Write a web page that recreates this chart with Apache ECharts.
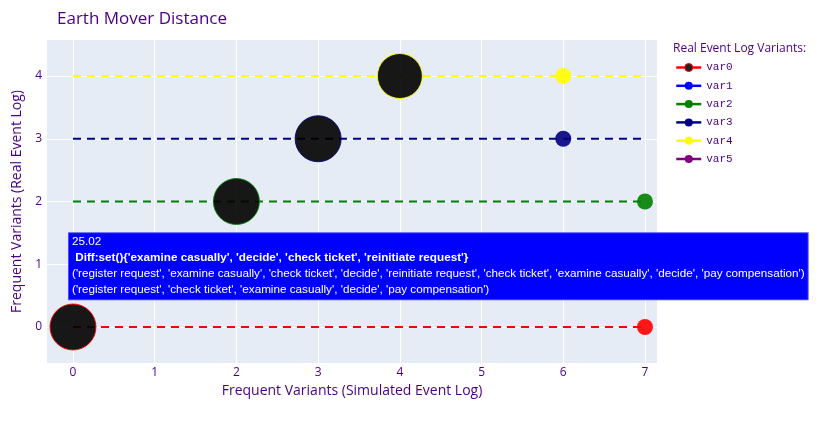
<!DOCTYPE html>
<html>
<head>
<meta charset="utf-8">
<title>Earth Mover Distance</title>
<script src="https://cdn.jsdelivr.net/npm/echarts@6/dist/echarts.min.js"></script>
<style>
    html, body { margin: 0; padding: 0; background: #fff; }
    #chart { width: 830px; height: 422px; }
</style>
</head>
<body>
<div id="chart"></div>
<script>
// variants of the real event log, one dashed line each (y = index)
const variantNames = ['var0', 'var1', 'var2', 'var3', 'var4', 'var5']
const variantColors = ['#ff0000', '#0000ff', '#008000', '#000080', '#ffff00', '#800080']
const lineFrom = [0, 0, 0, 0, 0, 0]
const lineTo = [7, 7, 7, 7, 7, 7]

// matched variants (black bubbles)
const matchX = [0, 2, 3, 4]
const matchY = [0, 2, 3, 4]
const matchSize = [46, 46, 46, 45]

// last simulated variant for each real one (coloured dots)
const lastX = [7, 7, 6, 6]
const lastY = [0, 2, 3, 4]
const lastSize = [16, 16, 16, 16]

const xTicks = [0, 1, 2, 3, 4, 5, 6, 7]
const yTicks = [0, 1, 2, 3, 4]

// hover label shown on var1
const hoverPoint = [0, 1]
const hoverValue = '25.02'
const hoverDiff = " Diff:set(){'examine casually', 'decide', 'check ticket', 'reinitiate request'}"
const hoverReal = "('register request', 'examine casually', 'check ticket', 'decide', 'reinitiate request', 'check ticket', 'examine casually', 'decide', 'pay compensation')"
const hoverSim = "('register request', 'check ticket', 'examine casually', 'decide', 'pay compensation')"

const textColor = '#4b0082'
const font = '"Open Sans", "Noto Sans", sans-serif'
const hoverFont = 'Arial, "Liberation Sans", sans-serif'

var myChart = echarts.init(document.getElementById('chart'))

let series = []
variantNames.forEach((name, i) => {
    series.push({
        name: name,
        type: 'line',
        data: [[lineFrom[i], i], [lineTo[i], i]],
        color: variantColors[i],
        symbol: 'circle',
        symbolSize: 10,
        showSymbol: false,
        lineStyle: { type: [8, 6], width: 2, color: variantColors[i] },
        z: 2,
        silent: true,
    })
})
series.push({
    type: 'scatter',
    data: matchX.map((x, i) => ({
        value: [x, matchY[i]],
        symbolSize: matchSize[i],
        itemStyle: {
            color: '#000',
            opacity: 0.9,
            borderColor: variantColors[matchY[i]],
            borderWidth: 1,
        },
    })),
    z: 3,
    silent: true,
})
series.push({
    type: 'scatter',
    data: lastX.map((x, i) => ({
        value: [x, lastY[i]],
        symbolSize: lastSize[i],
        itemStyle: { color: variantColors[lastY[i]], opacity: 0.9 },
    })),
    z: 3,
    silent: true,
})

let option = {
    backgroundColor: '#fff',
    textStyle: { fontFamily: font },
    title: [
        {
            text: 'Earth Mover Distance',
            left: 52,
            top: 6,
            textStyle: { fontSize: 17, fontWeight: 'normal', color: textColor, fontFamily: font },
        },
        {
            text: 'Real Event Log Variants:',
            left: 668,
            top: 38,
            textStyle: { fontSize: 12, fontWeight: 'normal', color: textColor, fontFamily: font },
        },
    ],
    legend: {
        orient: 'vertical',
        left: 670,
        top: 57,
        itemWidth: 25,
        itemHeight: 10,
        itemGap: 7.3,
        lineStyle: { type: 'solid', width: 2.5 },
        textStyle: { fontFamily: '"Courier New", "Liberation Mono", monospace', fontSize: 11, color: textColor },
        data: variantNames.map((n, i) =>
            i === 0
                ? { name: n, itemStyle: { color: '#222', borderColor: variantColors[0], borderWidth: 1 } }
                : { name: n }
        ),
    },
    grid: {
        left: 47,
        right: 173,
        top: 40,
        bottom: 59,
        show: true,
        backgroundColor: '#E5ECF6',
        borderWidth: 0,
    },
    xAxis: {
        type: 'value',
        min: -0.318,
        max: 7.147,
        name: 'Frequent Variants (Simulated Event Log)',
        nameLocation: 'middle',
        nameGap: 21,
        nameTextStyle: { fontSize: 14, color: textColor, fontFamily: font },
        axisLine: { show: false },
        axisTick: { show: false, customValues: xTicks },
        axisLabel: { customValues: xTicks, margin: 4, fontSize: 12, color: textColor, fontFamily: font },
        splitLine: { show: true, lineStyle: { color: '#fff', width: 1 } },
    },
    yAxis: {
        type: 'value',
        min: -0.574,
        max: 4.574,
        name: 'Frequent Variants (Real Event Log)',
        nameLocation: 'middle',
        nameGap: 14,
        nameTextStyle: { fontSize: 14, color: textColor, fontFamily: font },
        axisLine: { show: false },
        axisTick: { show: false, customValues: yTicks },
        axisLabel: { customValues: yTicks, margin: 5, fontSize: 12, color: textColor, fontFamily: font },
        splitLine: { show: true, lineStyle: { color: '#fff', width: 1 } },
    },
    series: series,
}
myChart.setOption(option)

// hover label, anchored to the hovered point
const p = myChart.convertToPixel({ xAxisIndex: 0, yAxisIndex: 0 }, hoverPoint)
myChart.setOption({
    graphic: [
        {
            type: 'text',
            left: p[0] - 5,
            top: p[1] - 32,
            z: 100,
            style: {
                text: '{n|' + hoverValue + '}\n' + hoverDiff + '\n{n|' + hoverReal + '}\n{n|' + hoverSim + '}',
                fill: '#fff',
                font: 'bold 11.7px ' + hoverFont,
                lineHeight: 16,
                backgroundColor: '#0000ff',
                borderColor: '#4d4dff',
                borderWidth: 1,
                padding: [1, 3, 1, 3],
                rich: {
                    n: {
                        fontWeight: 'normal',
                        fontSize: 11.7,
                        fontFamily: hoverFont,
                        lineHeight: 16,
                        fill: '#fff',
                        color: '#fff',
                    },
                },
            },
        },
    ],
})
window.addEventListener('resize', function() {
    myChart.resize()
})
</script>
</body>
</html>
